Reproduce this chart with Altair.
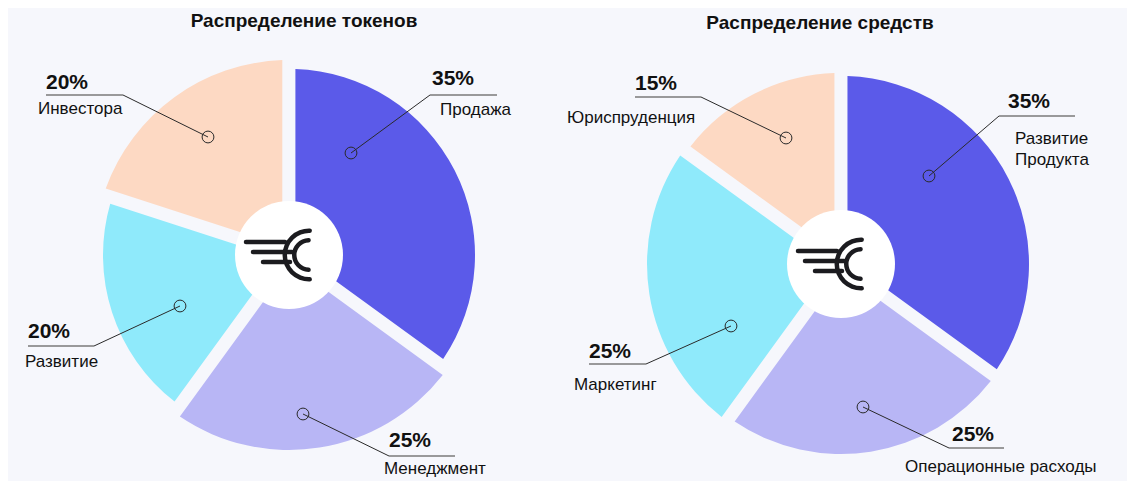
import math
import altair as alt
import pandas as pd

# ---------------- data ----------------
token_title = "Распределение токенов"
token_labels = ["Продажа", "Менеджмент", "Развитие", "Инвестора"]
token_values = [35, 25, 20, 20]

funds_title = "Распределение средств"
funds_labels = ["Развитие\nПродукта", "Операционные расходы", "Маркетинг", "Юриспруденция"]
funds_values = [35, 25, 25, 15]

# ---------------- style / layout ----------------
slice_colors = ["#5B5AE9", "#B8B6F5", "#8FEAFB", "#FDD9C3"]
BG = "#F6F7FC"
FONT = "Liberation Sans"
OX, OY = 8, 8  # page offset of the plot origin

pies = [
    dict(title=token_title, labels=token_labels, values=token_values,
         center=(289, 255), radii=[186, 195, 186, 195], title_pos=(304, 21),
         ann=[
             dict(m=(351, 153), elbow=(430, 95), ux=(430, 497), pct=(432, 79), name=(440, 110)),
             dict(m=(303, 414), elbow=(389, 456), ux=(389, 455), pct=(389, 441), name=(384, 469)),
             dict(m=(180, 306), elbow=(94, 346), ux=(28, 94), pct=(28, 332), name=(25, 362)),
             dict(m=(208, 137), elbow=(123, 95), ux=(46, 123), pct=(46, 83), name=(38, 109)),
         ]),
    dict(title=funds_title, labels=funds_labels, values=funds_values,
         center=(841, 264), radii=[188, 190, 194, 191], title_pos=(820, 23),
         ann=[
             dict(m=(929, 176), elbow=(999, 116), ux=(999, 1075), pct=(1008, 102), name=(1015, 139)),
             dict(m=(863, 407), elbow=(949, 448), ux=(949, 1004), pct=(952, 435), name=(905, 467)),
             dict(m=(731, 326), elbow=(646, 364), ux=(589, 646), pct=(589, 352), name=(574, 385)),
             dict(m=(786, 138), elbow=(701, 97), ux=(635, 701), pct=(635, 84), name=(567, 118)),
         ]),
]


def px(x):
    return alt.value(x - OX)


def py(y):
    return alt.value(y - OY)


one = pd.DataFrame({"k": [0]})
layers = []

for pie in pies:
    cx, cy = pie["center"]
    df = pd.DataFrame({"label": pie["labels"], "value": pie["values"],
                       "order": list(range(len(pie["values"])))})
    total = sum(pie["values"])
    base = (alt.Chart(df)
            .transform_window(cum="sum(value)", sort=[alt.SortField("order")], frame=[None, 0])
            .transform_calculate(start="datum.cum - datum.value", pct="datum.value + '%'"))

    # slices
    for i in range(len(pie["values"])):
        layers.append(
            base.transform_filter(alt.datum.order == i)
            .mark_arc(outerRadius=pie["radii"][i], innerRadius=30, padAngle=0.068,
                      color=slice_colors[i])
            .encode(theta=alt.Theta("start:Q", scale=alt.Scale(domain=[0, total])),
                    theta2="cum:Q", x=px(cx), y=py(cy))
        )

    # white hub
    layers.append(alt.Chart(one).mark_arc(outerRadius=54, color="white").encode(
        theta=alt.value(0), theta2=alt.value(2 * math.pi), x=px(cx), y=py(cy)))

    # logo: two C arcs and three bars
    lx, ly = cx + 20, cy
    for r0, r1 in [(22, 26.5), (12.5, 17)]:
        layers.append(alt.Chart(one).mark_arc(innerRadius=r0, outerRadius=r1, cornerRadius=2.2,
                                              color="#1B1B1F").encode(
            theta=alt.value(math.pi - 0.12), theta2=alt.value(2 * math.pi + 0.12),
            x=px(lx), y=py(ly)))
    for x0, x1, dy in [(-63, -24, -13), (-56, -17, -3), (-46, -19, 7)]:
        layers.append(alt.Chart(one).mark_rule(strokeWidth=4.5, strokeCap="round",
                                               color="#1B1B1F").encode(
            x=px(lx + x0), x2=px(lx + x1), y=py(ly + dy)))

    # title
    tx, ty = pie["title_pos"]
    layers.append(alt.Chart(pd.DataFrame({"t": [pie["title"]]})).mark_text(
        font=FONT, fontSize=19, fontWeight="bold", color="#111111", align="center",
        baseline="middle").encode(text="t:N", x=px(tx), y=py(ty)))

    # annotations
    for i, a in enumerate(pie["ann"]):
        mx, my = a["m"]
        ex, ey = a["elbow"]
        layers.append(alt.Chart(one).mark_rule(strokeWidth=1, color="#2A2A2A").encode(
            x=px(mx), y=py(my), x2=px(ex), y2=py(ey)))
        layers.append(alt.Chart(one).mark_rule(strokeWidth=1.5, color="#7A7A7A").encode(
            x=px(a["ux"][0]), x2=px(a["ux"][1]), y=py(ey)))
        layers.append(alt.Chart(one).mark_point(shape="circle", size=140, filled=False,
                                                stroke="#2A2A2A", strokeWidth=1, opacity=1).encode(
            x=px(mx), y=py(my)))
        sel = base.transform_filter(alt.datum.order == i)
        layers.append(sel.mark_text(font=FONT, fontSize=21, fontWeight="bold", color="#111111",
                                    align="left", baseline="middle").encode(
            text="pct:N", x=px(a["pct"][0]), y=py(a["pct"][1])))
        layers.append(sel.mark_text(font=FONT, fontSize=17, color="#111111", align="left",
                                    baseline="middle", lineBreak="\n", lineHeight=21).encode(
            text="label:N", x=px(a["name"][0]), y=py(a["name"][1])))

chart = (alt.layer(*layers)
         .properties(width=1119, height=473, padding=0, background=BG,
                     autosize=alt.AutoSizeParams(type="fit", contains="padding"))
         .configure_view(stroke=None))

chart.save("out.html", embed_options={"renderer": "svg", "actions": False})
